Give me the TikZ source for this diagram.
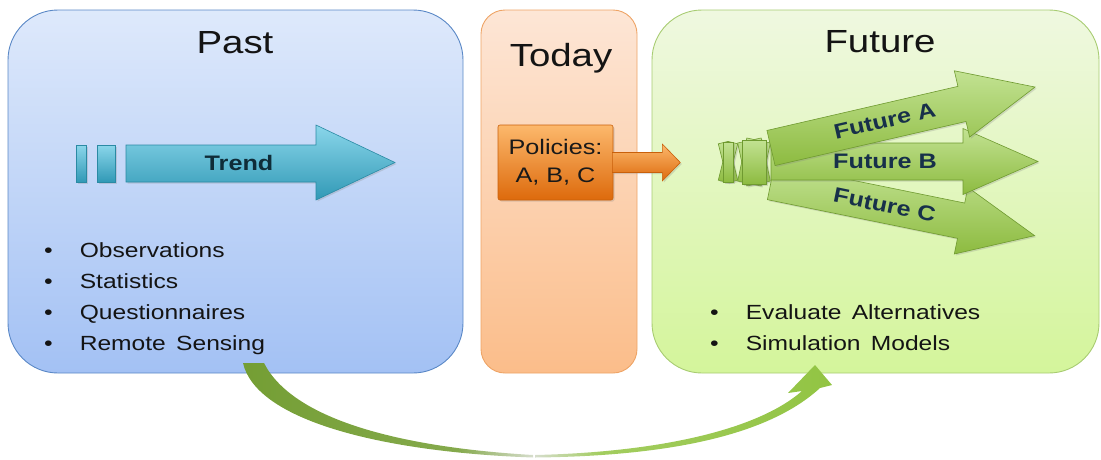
\documentclass[tikz,border=0pt]{standalone}
\usepackage{fontspec}
\setmainfont{Liberation Sans}[FakeStretch=1.2]
\usetikzlibrary{shadows}
\definecolor{pastTop}{HTML}{DEE9FB}
\definecolor{pastBot}{HTML}{A3C1F4}
\definecolor{pastLine}{HTML}{5A88C6}
\definecolor{todayTop}{HTML}{FDE6D6}
\definecolor{todayBot}{HTML}{FBBD8A}
\definecolor{todayLine}{HTML}{EEA466}
\definecolor{futTop}{HTML}{EFF8E0}
\definecolor{futBot}{HTML}{D4F59B}
\definecolor{futLine}{HTML}{A8CC72}
\definecolor{cyanTop}{HTML}{8AD6EA}
\definecolor{cyanMid}{HTML}{48B6D3}
\definecolor{cyanBot}{HTML}{3199B6}
\definecolor{cyanLine}{HTML}{2A8AA4}
\definecolor{orTop}{HTML}{FCB86C}
\definecolor{orMid}{HTML}{F5902E}
\definecolor{orBot}{HTML}{DD6A0C}
\definecolor{orLine}{HTML}{C9600B}
\definecolor{grTop}{HTML}{C2E292}
\definecolor{grMid}{HTML}{A2CD58}
\definecolor{grBot}{HTML}{8DBB40}
\definecolor{grLine}{HTML}{6F9A30}
\definecolor{curveDark}{HTML}{749E34}
\definecolor{curveBright}{HTML}{92C443}
\definecolor{curvePale}{HTML}{D6DDCC}
\definecolor{navy}{HTML}{17304A}
\definecolor{teal}{HTML}{0F2C38}
% axis shadings for the two halves of the sweeping arrow (25bp..75bp spans the path)
\pgfdeclarehorizontalshading{sweepleft}{100bp}{color(0bp)=(curveDark); color(25bp)=(curveDark);
  color(62bp)=(curveDark!88!white); color(75bp)=(curvePale); color(100bp)=(curvePale)}
\pgfdeclarehorizontalshading{sweepright}{100bp}{color(0bp)=(curvePale); color(25bp)=(curvePale);
  color(36bp)=(curveBright!85!white); color(75bp)=(curveBright); color(100bp)=(curveBright)}
\begin{document}
\begin{tikzpicture}[x=1pt,y=-1pt,
  panel/.style={draw, line width=0.9pt, inner sep=0pt},
  heading/.style={font=\fontsize{32}{38}\selectfont, text=black!92},
  bullets/.style={anchor=west, inner sep=0pt, font=\fontsize{20.5}{31}\selectfont, text=black!92},
  blockshade/.style={drop shadow={shadow xshift=1.5pt, shadow yshift=-1.5pt, opacity=.25}},
  cyanarrow/.style={blockshade, draw=cyanLine, line width=0.6pt, top color=cyanTop, middle color=cyanMid, bottom color=cyanBot},
  orangebox/.style={blockshade, draw=orLine, line width=0.6pt, top color=orTop, middle color=orMid, bottom color=orBot},
  greenarrow/.style={blockshade, draw=grLine, line width=0.6pt, top color=grTop, middle color=grMid, bottom color=grBot},
  arrowlabel/.style={font=\bfseries\fontsize{21}{24}\selectfont, inner sep=0pt}
]
\useasboundingbox (0,0) rectangle (1101,459);

% three time panels
\node[panel, draw=pastLine, top color=pastTop, bottom color=pastBot, rounded corners=50pt,
      minimum width=455pt, minimum height=363pt] (past) at (235.5,191.5) {};
\node[panel, draw=todayLine, top color=todayTop, bottom color=todayBot, rounded corners=24pt,
      minimum width=156pt, minimum height=363pt] (today) at (559,191.5) {};
\node[panel, draw=futLine, top color=futTop, bottom color=futBot, rounded corners=50pt,
      minimum width=447pt, minimum height=363pt] (future) at (875.5,191.5) {};

\node[heading] (pastT) at (235,43) {Past};
\node[heading] (todayT) at (561,58) {Today};
\node[heading] (futureT) at (880,42) {Future};

% trend arrow with its two lead-in bars
\path[cyanarrow] (76,145) rectangle (86,182);
\path[cyanarrow] (97,145) rectangle (115,182);
\path[cyanarrow] (126,145) -- (316,145) -- (316,125) -- (395,162.5) -- (316,200) -- (316,182) -- (126,182) -- cycle;
\node[arrowlabel, text=teal] (trend) at (239,163) {Trend};

% policies box and its arrow
\node[orangebox, rounded corners=2pt, minimum width=115pt, minimum height=75pt, inner sep=0pt,
      align=center, font=\fontsize{21}{28}\selectfont, text=black!90] (pol) at (555.5,162.5) {Policies:\\A, B, C};
\path[orangebox] ([xshift=-1pt]pol.east) ++(0,-10) -- ++(50,0) -- ++(0,-8.5) -- ++(18,18.5)
      -- ++(-18,18.5) -- ++(0,-8.5) -- ++(-50,0) -- cycle;

% fan of future arrows
\foreach \cx/\w/\h/\a in {728/10/40/14, 728/10/40/-14, 728/10/40/0, 754/24/44/12, 754/24/44/-12, 754/24/44/0}{
  \path[greenarrow, rotate around={\a:(\cx,162)}] (\cx-\w/2,162-\h/2) rectangle (\cx+\w/2,162+\h/2);
}
\begin{scope}[shift={(771,182)}, rotate=-11.5]
  \path[greenarrow] (0,-18) -- (194,-18) -- (194,-34) -- (269,0) -- (194,34) -- (194,18) -- (0,18) -- cycle;
  \node[arrowlabel, text=navy, rotate=-11.5] (futC) at (116,0) {Future C};
\end{scope}
\begin{scope}[shift={(771,161.5)}]
  \path[greenarrow] (0,-18.5) -- (192,-18.5) -- (192,-33) -- (267,0) -- (192,33) -- (192,18.5) -- (0,18.5) -- cycle;
  \node[arrowlabel, text=navy] (futB) at (114,0) {Future B};
\end{scope}
\begin{scope}[shift={(771,148)}, rotate=13]
  \path[greenarrow] (0,-18) -- (196,-18) -- (196,-34) -- (271,0) -- (196,34) -- (196,18) -- (0,18) -- cycle;
  \node[arrowlabel, text=navy, rotate=13] (futA) at (117,-1) {Future A};
\end{scope}

% bullet lists
\node[bullets] (pastList) at (44,297.5) {%
  \begin{tabular}{@{}l@{\hspace{27pt}}l@{}}
  \textbullet & Observations\\
  \textbullet & Statistics\\
  \textbullet & Questionnaires\\
  \textbullet & Remote\, Sensing
  \end{tabular}};
\node[bullets] (futList) at (710,328.5) {%
  \begin{tabular}{@{}l@{\hspace{27pt}}l@{}}
  \textbullet & Evaluate\, Alternatives\\
  \textbullet & Simulation\, Models
  \end{tabular}};

% sweeping arrow from past to future, tapering to the middle
\path[shading=sweepleft]
  (243,363) .. controls (256,420) and (380,452) .. (533,457.5)
  -- (533,455) .. controls (395,447) and (292,418) .. (264,363) -- cycle;
\path[shading=sweepright]
  (535,457.5) .. controls (680,456) and (772,432) .. (820,388)
  -- (832,385) -- (815,365) -- (788,393) -- (802,391)
  .. controls (760,428) and (665,452) .. (535,455) -- cycle;
\end{tikzpicture}
\end{document}
